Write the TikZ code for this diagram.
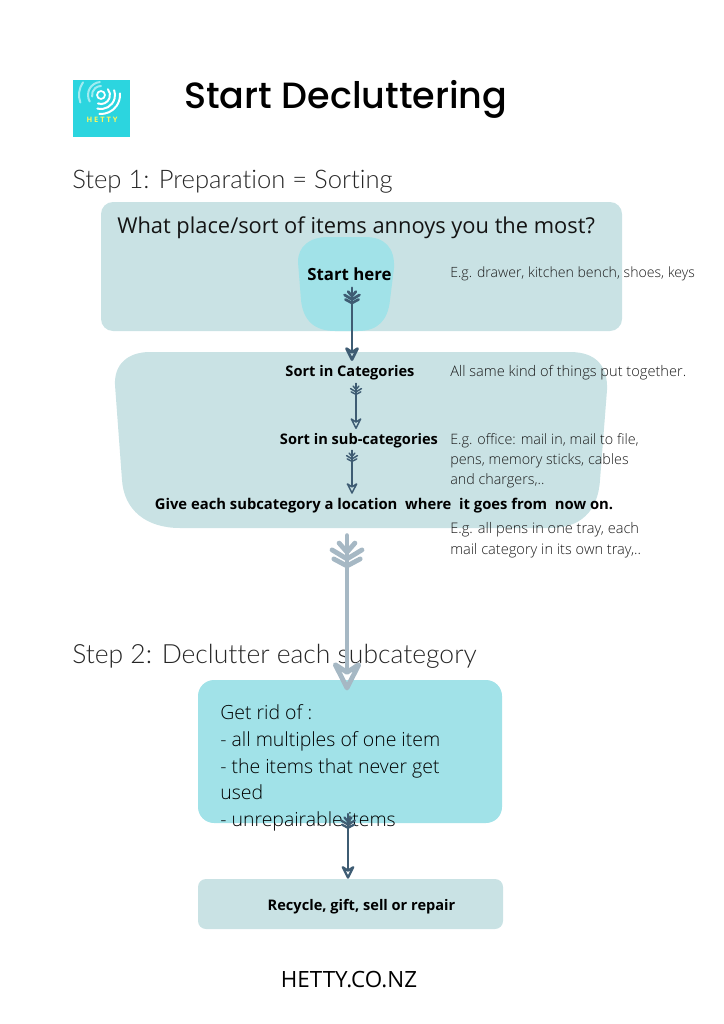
\documentclass[tikz,border=0pt]{standalone}
\usepackage{fontspec}
\setmainfont{Open Sans}
\newfontfamily\titlefont{Poppins Medium}
\newfontfamily\lightfont[Ligatures=NoCommon]{Lato Light}
\newfontfamily\notefont{Open Sans Light}
\usetikzlibrary{arrows.meta, positioning, calc}
\definecolor{palecolor}{RGB}{201, 226, 228}
\definecolor{tealcolor}{RGB}{161, 226, 232}
\definecolor{logocolor}{RGB}{44, 213, 223}
\definecolor{inkcolor}{RGB}{62, 92, 115}
\definecolor{fadecolor}{RGB}{166, 184, 196}
\tikzset{
  stephead/.style={anchor=west, inner sep=0pt, font=\lightfont\fontsize{19.85}{24}\selectfont, text=black!85},
  boldlabel/.style={inner sep=1pt, font=\bfseries\fontsize{10.95}{13}\selectfont, text=black},
  notelabel/.style={anchor=north west, inner sep=0pt, align=left, font=\notefont\fontsize{10.75}{15}\selectfont, text=black!90},
  arrowline/.style={line cap=round, line join=round, -{Stealth[open, length=#1, width=#1, inset=0.32*#1, round]}},
  ring/.style={white, line cap=round, line width=1.5pt},
  fadering/.style={white!55!logocolor, line cap=round, line width=1.5pt}
}
% feathered arrow: from, to, colour, line width, barb size
\newcommand{\featherarrow}[5]{
  \draw[#3, line width=#4, arrowline=#5*1.2] (#1) -- (#2);
  \foreach \ax/\ay/\ex/\ey in {0.18/0/0.6/-0.32, -0.14/0/0.68/-0.41, -0.45/0/0.36/-0.41}
    \draw[#3, line width=#4, line cap=round, line join=round]
      ($(#1)+({-\ex*#5},{(\ay+\ax+\ey)*#5})$) -- ($(#1)+(0,{\ax*#5})$)
      -- ($(#1)+({\ex*#5},{(\ay+\ax+\ey)*#5})$);
  \draw[#3, line width=#4, line cap=round] ($(#1)+(0,-#5*1.2)$) -- (#1);
}
\begin{document}
\begin{tikzpicture}[x=0.75pt, y=-0.75pt]
  \useasboundingbox (0,0) rectangle (724,1024);

  % Logo
  \fill[logocolor] (73,80) rectangle (130,137);
  \draw[ring, line width=1.3pt] (101,95) circle (4);
  \foreach \r/\a/\b in {9/110/-40, 14/105/-20, 19/95/-5}
    \draw[ring] (101,95) ++(\a:\r) arc[start angle=\a, end angle=\b, radius=\r];
  \foreach \r/\a/\b in {9/170/270, 13/150/265, 22/160/215}
    \draw[fadering] (101,95) ++(\a:\r) arc[start angle=\a, end angle=\b, radius=\r];
  \node[inner sep=0pt, font=\bfseries\fontsize{5.6}{6}\selectfont, text=yellow!65!white] (logoname) at (102,120) {H E T T Y};

  % Title and steps
  \node[anchor=west, inner sep=0pt, font=\titlefont\fontsize{27.4}{32}\selectfont] (title) at (184,99) {Start Decluttering};
  \node[stephead, font=\lightfont\fontsize{19.2}{24}\selectfont] (stepone) at (72,181.5) {Step 1: Preparation = Sorting};

  % Step 1 boxes
  \node[fill=palecolor, rounded corners=9pt, minimum width=521*0.75pt, minimum height=129*0.75pt, inner sep=0pt] (placebox) at (361.5,266.5) {};
  \fill[palecolor] (150,352) -- (570,352) .. controls (596,352) and (608,366) .. (607,390)
    -- (600,480) .. controls (598,512) and (580,528) .. (550,528) -- (180,528)
    .. controls (146,528) and (124,510) .. (122,480) -- (115,385) .. controls (114,364) and (128,352) .. (150,352) -- cycle;
  \fill[tealcolor] (328,237) -- (365,237) .. controls (385,237) and (395,248) .. (394,268)
    -- (390,300) .. controls (388,320) and (378,331) .. (358,331) -- (335,331)
    .. controls (314,331) and (303,320) .. (301,300) -- (298,262) .. controls (298,246) and (310,237) .. (328,237) -- cycle;
  \node[anchor=west, inner sep=0pt, font=\fontsize{16.4}{20}\selectfont, text=black!92] (question) at (117,228) {What place/sort of items annoys you the most?};
  \node[boldlabel, font=\bfseries\fontsize{12.6}{14}\selectfont] (starthere) at (349.5,274) {Start here};
  \node[notelabel, font=\notefont\fontsize{10.57}{15}\selectfont] (noteplace) at (450,267) {E.g. drawer, kitchen bench, shoes, keys};
  \node[boldlabel] (sortcat) at (350,372.5) {Sort in Categories};
  \node[notelabel, font=\notefont\fontsize{10.95}{15}\selectfont] (notecat) at (450,365.5) {All same kind of things put together.};
  \node[boldlabel] (sortsub) at (359,440.5) {Sort in sub-categories};
  \node[notelabel] (notesub) at (450,433.5) {E.g. office: mail in, mail to file,\\pens, memory sticks, cables\\and chargers,..};
  \node[boldlabel, font=\bfseries\fontsize{11.1}{13}\selectfont] (givesub) at (384,505.5) {Give each subcategory a location\ \ where\ \ it goes from\ \ now on.};
  \node[notelabel, font=\notefont\fontsize{10.95}{15.2}\selectfont] (notegive) at (450,522.5) {E.g. all pens in one tray, each\\mail category in its own tray,..};

  % Step 2 boxes
  \node[stephead] (steptwo) at (72,656.5) {Step 2: Declutter each subcategory};
  \node[fill=tealcolor, rounded corners=12pt, minimum width=304*0.75pt, minimum height=143*0.75pt, inner sep=0pt] (riditems) at (350,751.5) {};
  \node[anchor=north west, inner sep=0pt, align=left, font=\notefont\fontsize{14.6}{20.2}\selectfont, text=black] (ridtext) at (220,704) {Get rid of :\\- all multiples of one item\\- the items that never get\\used\\- unrepairable items};
  \node[fill=palecolor, rounded corners=6pt, minimum width=305*0.75pt, minimum height=50*0.75pt, inner sep=0pt] (recycle) at (350.5,904) {};
  \node[boldlabel] (recycletext) at (361.5,906.5) {Recycle, gift, sell or repair};
  \node[inner sep=0pt, font=\fontsize{16.8}{20}\selectfont] (site) at (349,980) {HETTY.CO.NZ};

  % Connecting arrows
  \coordinate (tailstart) at (352,301);
  \coordinate (tipstart) at ([yshift=2pt]tailstart |- sortcat.north);
  \coordinate (tailcat) at (356,393);
  \coordinate (tipcat) at ([yshift=2pt]tailcat |- sortsub.north);
  \coordinate (tailsub) at (352,460);
  \coordinate (tipsub) at ([yshift=2pt]tailsub |- givesub.north);
  \coordinate (tailbig) at (347,562);
  \coordinate (tipbig) at ([yshift=-8pt]tailbig |- riditems.north);
  \coordinate (tailrid) at (348,826);
  \coordinate (tiprid) at (tailrid |- recycle.north);
  \featherarrow{tailstart}{tipstart}{inkcolor}{2pt}{11}
  \featherarrow{tailcat}{tipcat}{inkcolor}{1.1pt}{8}
  \featherarrow{tailsub}{tipsub}{inkcolor}{1.1pt}{8}
  \featherarrow{tailbig}{tipbig}{fadecolor}{3.6pt}{22}
  \featherarrow{tailrid}{tiprid}{inkcolor}{1.7pt}{10}
\end{tikzpicture}
\end{document}
